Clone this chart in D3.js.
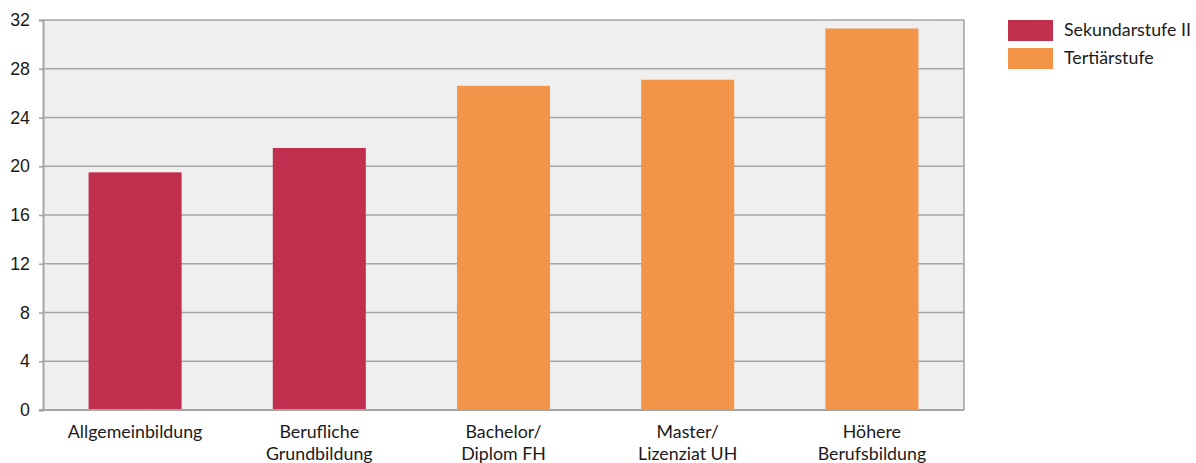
<!DOCTYPE html>
<html>
<head>
<meta charset="utf-8">
<script src="https://cdn.jsdelivr.net/npm/d3@7"></script>
<style>
  html, body { margin: 0; padding: 0; background: #ffffff; }
  svg { display: block; font-family: "Lato", "Open Sans", sans-serif; }
</style>
</head>
<body>
<svg id="chart" width="1196" height="463"></svg>
<script>
// Categories (two-line labels split by "\n")
const categories = [
  "Allgemeinbildung",
  "Berufliche\nGrundbildung",
  "Bachelor/\nDiplom FH",
  "Master/\nLizenziat UH",
  "Höhere\nBerufsbildung"
];
const values = [19.5, 21.5, 26.6, 27.1, 31.3];
const groups = ["Sekundarstufe II", "Sekundarstufe II", "Tertiärstufe", "Tertiärstufe", "Tertiärstufe"];
const legendLabels = ["Sekundarstufe II", "Tertiärstufe"];
const legendColors = ["#C0304E", "#F39549"];
const yTicks = [0, 4, 8, 12, 16, 20, 24, 28, 32];

const svg = d3.select("#chart");
const margin = { left: 43, top: 20, right: 232, bottom: 53 };
const W = 1196, H = 463;
const plotW = W - margin.left - margin.right;
const plotH = H - margin.top - margin.bottom;
const FS = "17.8px";

const color = d3.scaleOrdinal().domain(legendLabels).range(legendColors);

const x = d3.scaleBand()
  .domain(categories)
  .range([0, plotW])
  .paddingInner(0.495)
  .paddingOuter(0.2475);

const y = d3.scaleLinear().domain([0, 32]).range([plotH, 0]);

const g = svg.append("g").attr("transform", `translate(${margin.left},${margin.top})`);

// Plot background
g.append("rect")
  .attr("x", 0).attr("y", 0)
  .attr("width", plotW).attr("height", plotH)
  .attr("fill", "#EFEFEF");

// Horizontal grid lines
g.append("g")
  .selectAll("line")
  .data(yTicks)
  .join("line")
  .attr("x1", 0).attr("x2", plotW)
  .attr("y1", d => y(d)).attr("y2", d => y(d))
  .attr("stroke", "#A5A5A5")
  .attr("stroke-width", 1.6);

// Bars
g.append("g")
  .selectAll("rect")
  .data(values)
  .join("rect")
  .attr("x", (d, i) => x(categories[i]))
  .attr("y", d => y(d))
  .attr("width", x.bandwidth())
  .attr("height", d => y(0) - y(d))
  .attr("fill", (d, i) => color(groups[i]));

// Plot frame (right border)
g.append("line")
  .attr("x1", plotW).attr("x2", plotW)
  .attr("y1", 0).attr("y2", plotH)
  .attr("stroke", "#A5A5A5").attr("stroke-width", 1.6);

// Y axis
const yAxis = d3.axisLeft(y).tickValues(yTicks).tickSize(4).tickPadding(9);
const ya = g.append("g").call(yAxis);
ya.select(".domain").attr("stroke", "#A5A5A5").attr("stroke-width", 2);
ya.selectAll(".tick line").attr("stroke", "#A5A5A5").attr("stroke-width", 1.6);
ya.selectAll(".tick text")
  .attr("fill", "#1a1a1a")
  .style("font-size", FS);

// X axis bottom line
g.append("line")
  .attr("x1", -4).attr("x2", plotW)
  .attr("y1", plotH).attr("y2", plotH)
  .attr("stroke", "#A5A5A5").attr("stroke-width", 2);

// X labels
const xl = g.append("g")
  .selectAll("text")
  .data(categories)
  .join("text")
  .attr("x", d => x(d) + x.bandwidth() / 2)
  .attr("y", plotH + 28)
  .attr("text-anchor", "middle")
  .attr("fill", "#1a1a1a")
  .style("font-size", FS);
xl.selectAll("tspan")
  .data(d => d.split("\n"))
  .join("tspan")
  .attr("x", function () { return d3.select(this.parentNode).attr("x"); })
  .attr("dy", (d, i) => i === 0 ? 0 : 22)
  .text(d => d);

// Legend
const lg = svg.append("g").attr("transform", "translate(1008,20)");
const li = lg.selectAll("g")
  .data(legendLabels)
  .join("g")
  .attr("transform", (d, i) => `translate(0,${i * 28})`);
li.append("rect")
  .attr("width", 45).attr("height", 21)
  .attr("fill", d => color(d));
li.append("text")
  .attr("x", 56).attr("y", 16)
  .attr("fill", "#1a1a1a")
  .style("font-size", FS)
  .text(d => d);
</script>
</body>
</html>
